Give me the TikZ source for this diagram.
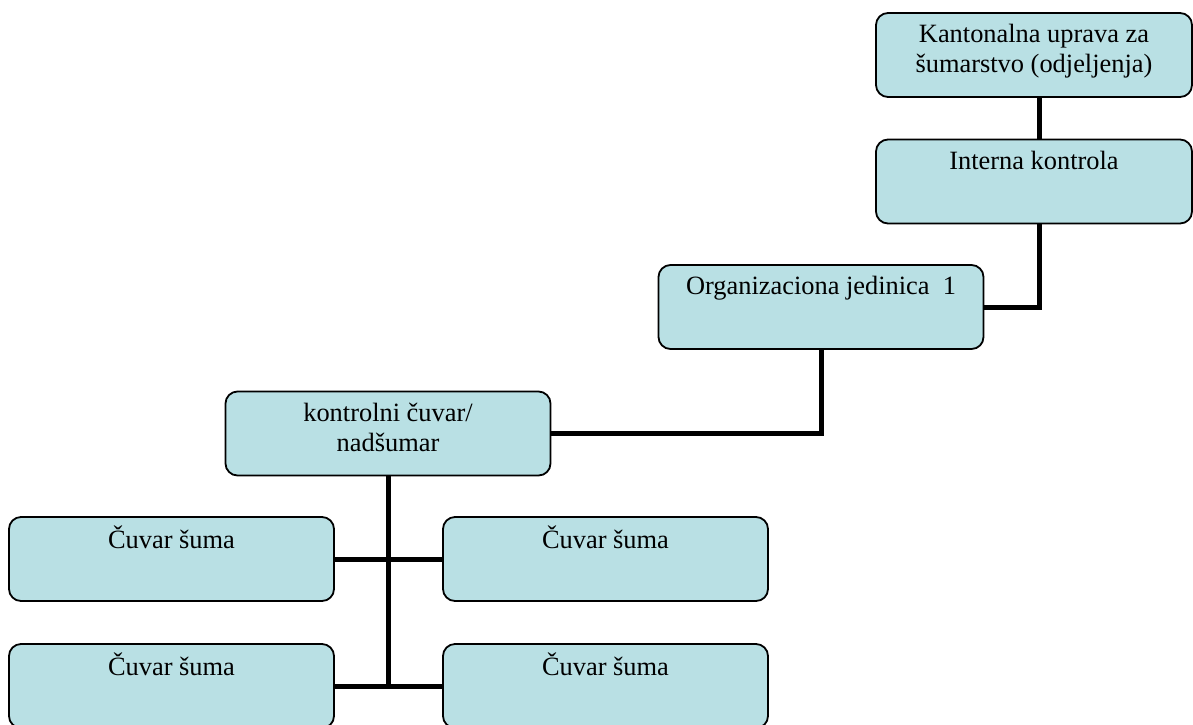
\documentclass[tikz,border=0pt]{standalone}
\usepackage{fontspec}
\setmainfont{Liberation Serif}
\usetikzlibrary{positioning}
\definecolor{boxcyan}{HTML}{B9E0E4}

\begin{document}
\begin{tikzpicture}[
    x=0.5pt, y=-0.5pt,
    unit/.style={rectangle, rounded corners=6pt, draw=black, line width=0.9pt, fill=boxcyan,
                 minimum width=162.5pt, minimum height=42pt, inner sep=0pt},
    lbl/.style={anchor=north, align=center, inner sep=0pt,
                font=\fontsize{13.2}{15}\selectfont},
    link/.style={line width=2.5pt, black}
  ]
    \useasboundingbox (0,0) rectangle (1193,724);
    \clip (0,0) rectangle (1193,724);
    % boxes
    \node[unit, minimum width=158pt] (kanton) at (1034,55) {};
    \node[unit, minimum width=158pt] (interna) at (1034,181.5) {};
    \node[unit] (orgj) at (821,307) {};
    \node[unit] (kontrol) at (388,433.5) {};
    \node[unit] (cuvarA) at (171.5,559) {};
    \node[unit] (cuvarB) at (605.5,559) {};
    \node[unit] (cuvarC) at (171.5,686) {};
    \node[unit] (cuvarD) at (605.5,686) {};
    % texts
    \node[lbl, below=4.5pt of kanton.north] (kanton-t) {\strut Kantonalna uprava za\\šumarstvo (odjeljenja)};
    \node[lbl, below=4.5pt of interna.north] (interna-t) {\strut Interna kontrola};
    \node[lbl, below=4.5pt of orgj.north] (orgj-t) {\strut Organizaciona jedinica\ \ 1};
    \node[lbl, below=4.5pt of kontrol.north] (kontrol-t) {\strut kontrolni čuvar/\\nadšumar};
    \node[lbl, below=4.5pt of cuvarA.north] (cuvarA-t) {\strut Čuvar šuma};
    \node[lbl, below=4.5pt of cuvarB.north] (cuvarB-t) {\strut Čuvar šuma};
    \node[lbl, below=4.5pt of cuvarC.north] (cuvarC-t) {\strut Čuvar šuma};
    \node[lbl, below=4.5pt of cuvarD.north] (cuvarD-t) {\strut Čuvar šuma};
    % connectors
    \draw[link] ([xshift=2.5pt]kanton.south) -- ([xshift=2.5pt]interna.north);
    \draw[link] ([xshift=2.5pt]interna.south) |- (orgj.east);
    \draw[link] (orgj.south) |- (kontrol.east);
    \draw[link] (kontrol.south) -- (kontrol.south |- cuvarC.east);
    \draw[link] (cuvarA.east) -- (cuvarB.west);
    \draw[link] (cuvarC.east) -- (cuvarD.west);
\end{tikzpicture}
\end{document}
